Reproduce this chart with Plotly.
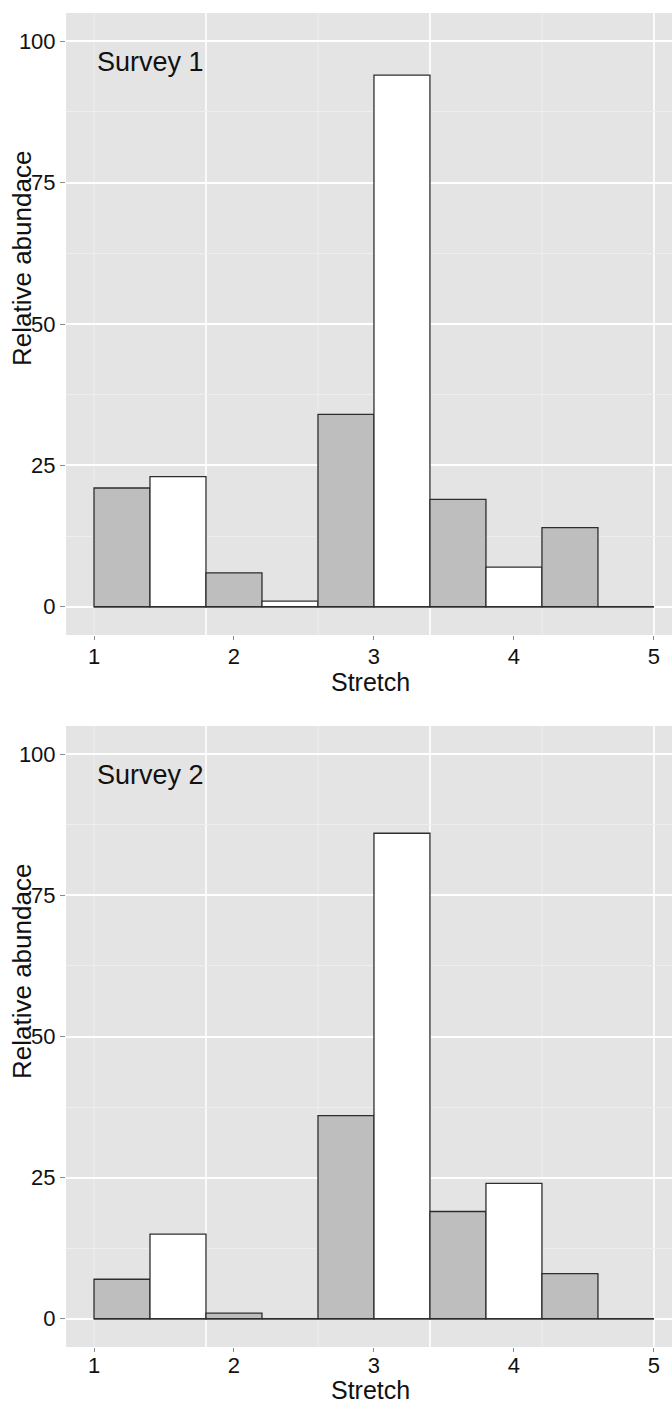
import plotly.graph_objects as go

# Histogram bins along the stream (bin edges) and counts per survey
stretch_edges = [1.0, 1.4, 1.8, 2.2, 2.6, 3.0, 3.4, 3.8, 4.2, 4.6, 5.0]
survey1_counts = [21, 23, 6, 1, 34, 94, 19, 7, 14, 0]
survey2_counts = [7, 15, 1, 0, 36, 86, 19, 24, 8, 0]
stretch_ticks = [1, 2, 3, 4, 5]
abundance_ticks = [0, 25, 50, 75, 100]
panel_titles = ["Survey 1", "Survey 2"]

# vertical grid positions along the stretch axis
grid_major_x = [1.8, 3.4, 5.0]
grid_minor_x = [1.0, 2.6, 4.2]

W, H = 672, 1405
BG = "#E4E4E4"
OUTLINE = "#2e2e2e"
FILLS = ["#BEBEBE", "#FFFFFF"]
TICK_FONT = dict(family="Liberation Sans, Arial", size=22, color="#111111")


def py(px):
    """Convert a pixel row (from top) to paper y."""
    return 1 - px / H


def px_x(px):
    return px / W


centers = [(a + b) / 2 for a, b in zip(stretch_edges[:-1], stretch_edges[1:])]
widths = [b - a for a, b in zip(stretch_edges[:-1], stretch_edges[1:])]
fills = [FILLS[i % 2] for i in range(len(centers))]

# panel vertical extents in pixels (top, bottom), x-title offset, tick label shift
panels = [(13, 635, 47, -2), (726, 1347, 43, -5)]
x_range = [0.8, 5.129]
x_domain = [66 / W, 1.0]

fig = go.Figure()
axes_ids = [("x", "y"), ("x2", "y2")]
for counts, (xa, ya) in zip([survey1_counts, survey2_counts], axes_ids):
    # baseline where empty bins collapse to a line
    fig.add_trace(go.Scatter(
        x=[stretch_edges[0], stretch_edges[-1]], y=[0, 0], mode="lines",
        line=dict(color=OUTLINE, width=1.3), xaxis=xa, yaxis=ya,
        hoverinfo="skip", showlegend=False))
    fig.add_trace(go.Bar(
        x=centers, y=counts, width=widths,
        marker=dict(color=fills, line=dict(color=OUTLINE, width=1.3)),
        xaxis=xa, yaxis=ya, showlegend=False))

layout = dict(
    width=W, height=H,
    margin=dict(l=0, r=0, t=0, b=0),
    paper_bgcolor="white",
    plot_bgcolor=BG,
    barmode="overlay",
    annotations=[],
    shapes=[],
)

for k, (top, bot, title_off, lab_shift) in enumerate(panels, start=1):
    sfx = "" if k == 1 else str(k)
    ydom = [py(bot), py(top)]
    layout["xaxis" + sfx] = dict(
        domain=x_domain, range=x_range, anchor="y" + sfx,
        tickmode="array", tickvals=stretch_ticks, ticks="outside", ticklen=4,
        tickcolor="#8a8a8a", tickwidth=1, showgrid=False, zeroline=False,
        showline=False, tickfont=TICK_FONT, ticklabelstandoff=lab_shift,
    )
    layout["yaxis" + sfx] = dict(
        domain=ydom, range=[-5, 105], anchor="x" + sfx,
        tickmode="array", tickvals=abundance_ticks, ticks="outside", ticklen=5,
        tickcolor="#8a8a8a", tickwidth=1, showgrid=True, gridcolor="#FFFFFF",
        gridwidth=1.6,
        minor=dict(tick0=0, dtick=12.5, showgrid=True, gridcolor="#EEEEEE",
                   gridwidth=1),
        zeroline=False, showline=False, tickfont=TICK_FONT,
    )
    for gx in grid_minor_x:
        layout["shapes"].append(dict(
            type="line", layer="below", xref="x" + sfx, yref="y" + sfx + " domain",
            x0=gx, x1=gx, y0=0, y1=1, line=dict(color="#EEEEEE", width=1)))
    for gx in grid_major_x:
        layout["shapes"].append(dict(
            type="line", layer="below", xref="x" + sfx, yref="y" + sfx + " domain",
            x0=gx, x1=gx, y0=0, y1=1, line=dict(color="#FFFFFF", width=1.6)))
    layout["annotations"] += [
        dict(text=panel_titles[k - 1], xref="paper", yref="paper",
             x=px_x(95), y=py(top + 49), xanchor="left", yanchor="middle",
             showarrow=False,
             font=dict(family="Liberation Sans, Arial", size=27, color="#111111")),
        dict(text="Stretch", xref="paper", yref="paper",
             x=px_x(370), y=py(bot + title_off), xanchor="center", yanchor="middle",
             showarrow=False,
             font=dict(family="Liberation Sans, Arial", size=25, color="#111111")),
        dict(text="Relative abundace", xref="paper", yref="paper",
             x=px_x(22), y=py(top + 246), xanchor="center", yanchor="middle",
             textangle=-90, showarrow=False,
             font=dict(family="Liberation Sans, Arial", size=26, color="#111111")),
    ]

fig.update_layout(**layout)
fig.write_html("out.html")
